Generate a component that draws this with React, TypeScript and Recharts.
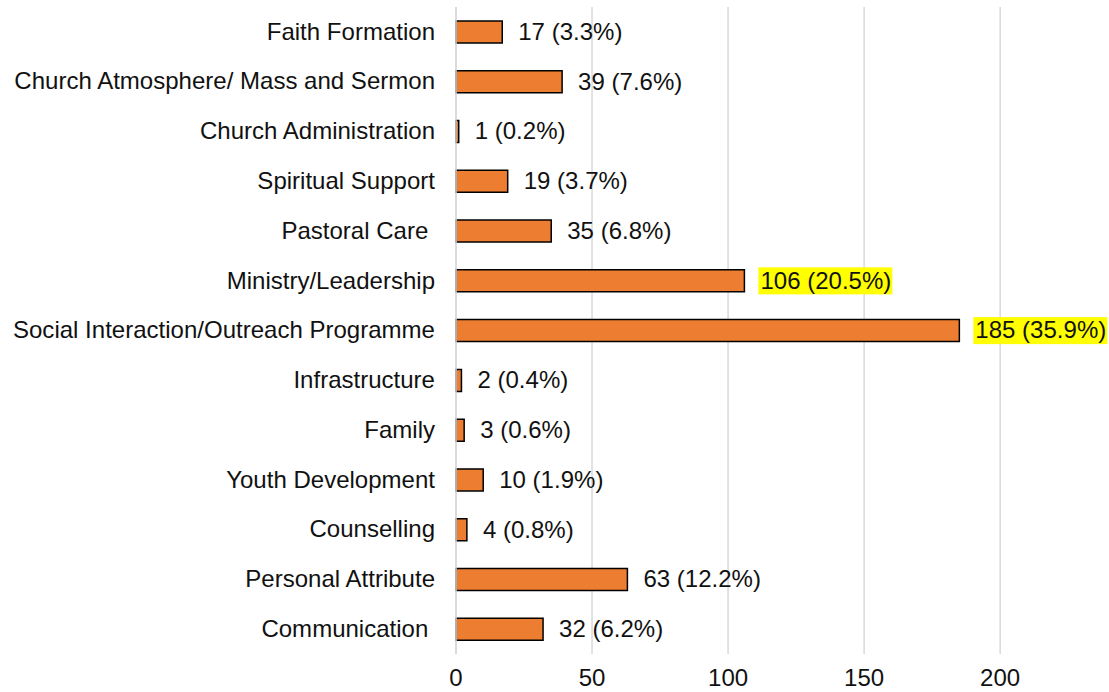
import React from 'react';
import { BarChart, Bar, XAxis, YAxis, CartesianGrid, LabelList } from 'recharts';

const categories = [
  'Faith Formation',
  'Church Atmosphere/ Mass and Sermon',
  'Church Administration',
  'Spiritual Support',
  'Pastoral Care ',
  'Ministry/Leadership',
  'Social Interaction/Outreach Programme',
  'Infrastructure',
  'Family',
  'Youth Development',
  'Counselling',
  'Personal Attribute',
  'Communication ',
];
const counts = [17, 39, 1, 19, 35, 106, 185, 2, 3, 10, 4, 63, 32];
const percents = ['3.3%', '7.6%', '0.2%', '3.7%', '6.8%', '20.5%', '35.9%', '0.4%', '0.6%', '1.9%', '0.8%', '12.2%', '6.2%'];
const highlighted = ['Ministry/Leadership', 'Social Interaction/Outreach Programme'];
const xTicks = [0, 50, 100, 150, 200];
const X_MAX = 240;

const FONT = '"Liberation Sans", Arial, sans-serif';
const FS = 23;
const SX = 1.045; // reference text is a bit wider than Liberation Sans
const INK = '#111';
const ORANGE = '#ED7D31';
const GRID = '#d9d9d9';

const data = categories.map((name, i) => ({
  name,
  count: counts[i],
  label: `${counts[i]} (${percents[i]})`,
  hl: highlighted.includes(name),
}));

let ctx: CanvasRenderingContext2D | null = null;
function textWidth(s: string) {
  if (!ctx) ctx = document.createElement('canvas').getContext('2d');
  if (!ctx) return s.length * FS * 0.55;
  ctx.font = `${FS}px "Liberation Sans"`;
  return ctx.measureText(s).width * SX;
}

function Txt({ x, y, anchor = 'start', children }: any) {
  return (
    <text
      transform={`translate(${x},${y}) scale(${SX},1)`}
      textAnchor={anchor}
      dominantBaseline="central"
      fontFamily={FONT}
      fontSize={FS}
      fill={INK}
      style={{ whiteSpace: 'pre' }}
    >
      {children}
    </text>
  );
}

function ValueLabel(props: any) {
  const { x, y, width, height, index } = props;
  const d = data[index];
  const tx = x + width + 16;
  const cy = y + height / 2;
  return (
    <g>
      {d.hl && (
        <rect x={tx - 2} y={cy - 13.5} width={textWidth(d.label) + 3} height={27} fill="#ffff00" />
      )}
      <Txt x={tx} y={cy}>{d.label}</Txt>
    </g>
  );
}

function CatTick(props: any) {
  const { x, y, payload } = props;
  return <Txt x={x - 13} y={y} anchor="end">{payload.value}</Txt>;
}

function NumTick(props: any) {
  const { x, y, payload } = props;
  return <Txt x={x} y={y + 16} anchor="middle">{payload.value}</Txt>;
}

// grid only at the labelled ticks, not at the right edge of the plot
const gridX = ({ offset }: any) => xTicks.map((t) => offset.left + (t / X_MAX) * offset.width);

export default function App() {
  return (
    <div style={{ position: 'absolute', left: 0, top: 0, width: 1109, height: 692, background: '#fff' }}>
      <BarChart
        width={1109}
        height={692}
        data={data}
        layout="vertical"
        margin={{ top: 7, right: 0, bottom: 0, left: 0 }}
      >
        <CartesianGrid horizontal={false} stroke={GRID} strokeWidth={1.5} verticalCoordinatesGenerator={gridX} />
        <XAxis
          type="number"
          domain={[0, X_MAX]}
          ticks={xTicks}
          axisLine={false}
          tickLine={false}
          height={38}
          tick={<NumTick />}
        />
        <YAxis
          type="category"
          dataKey="name"
          width={456}
          axisLine={{ stroke: GRID, strokeWidth: 1.5 }}
          tickLine={false}
          tick={<CatTick />}
          interval={0}
        />
        <Bar dataKey="count" fill={ORANGE} stroke="#000" strokeWidth={1.5} barSize={22} isAnimationActive={false}>
          <LabelList dataKey="count" content={<ValueLabel />} />
        </Bar>
      </BarChart>
    </div>
  );
}
